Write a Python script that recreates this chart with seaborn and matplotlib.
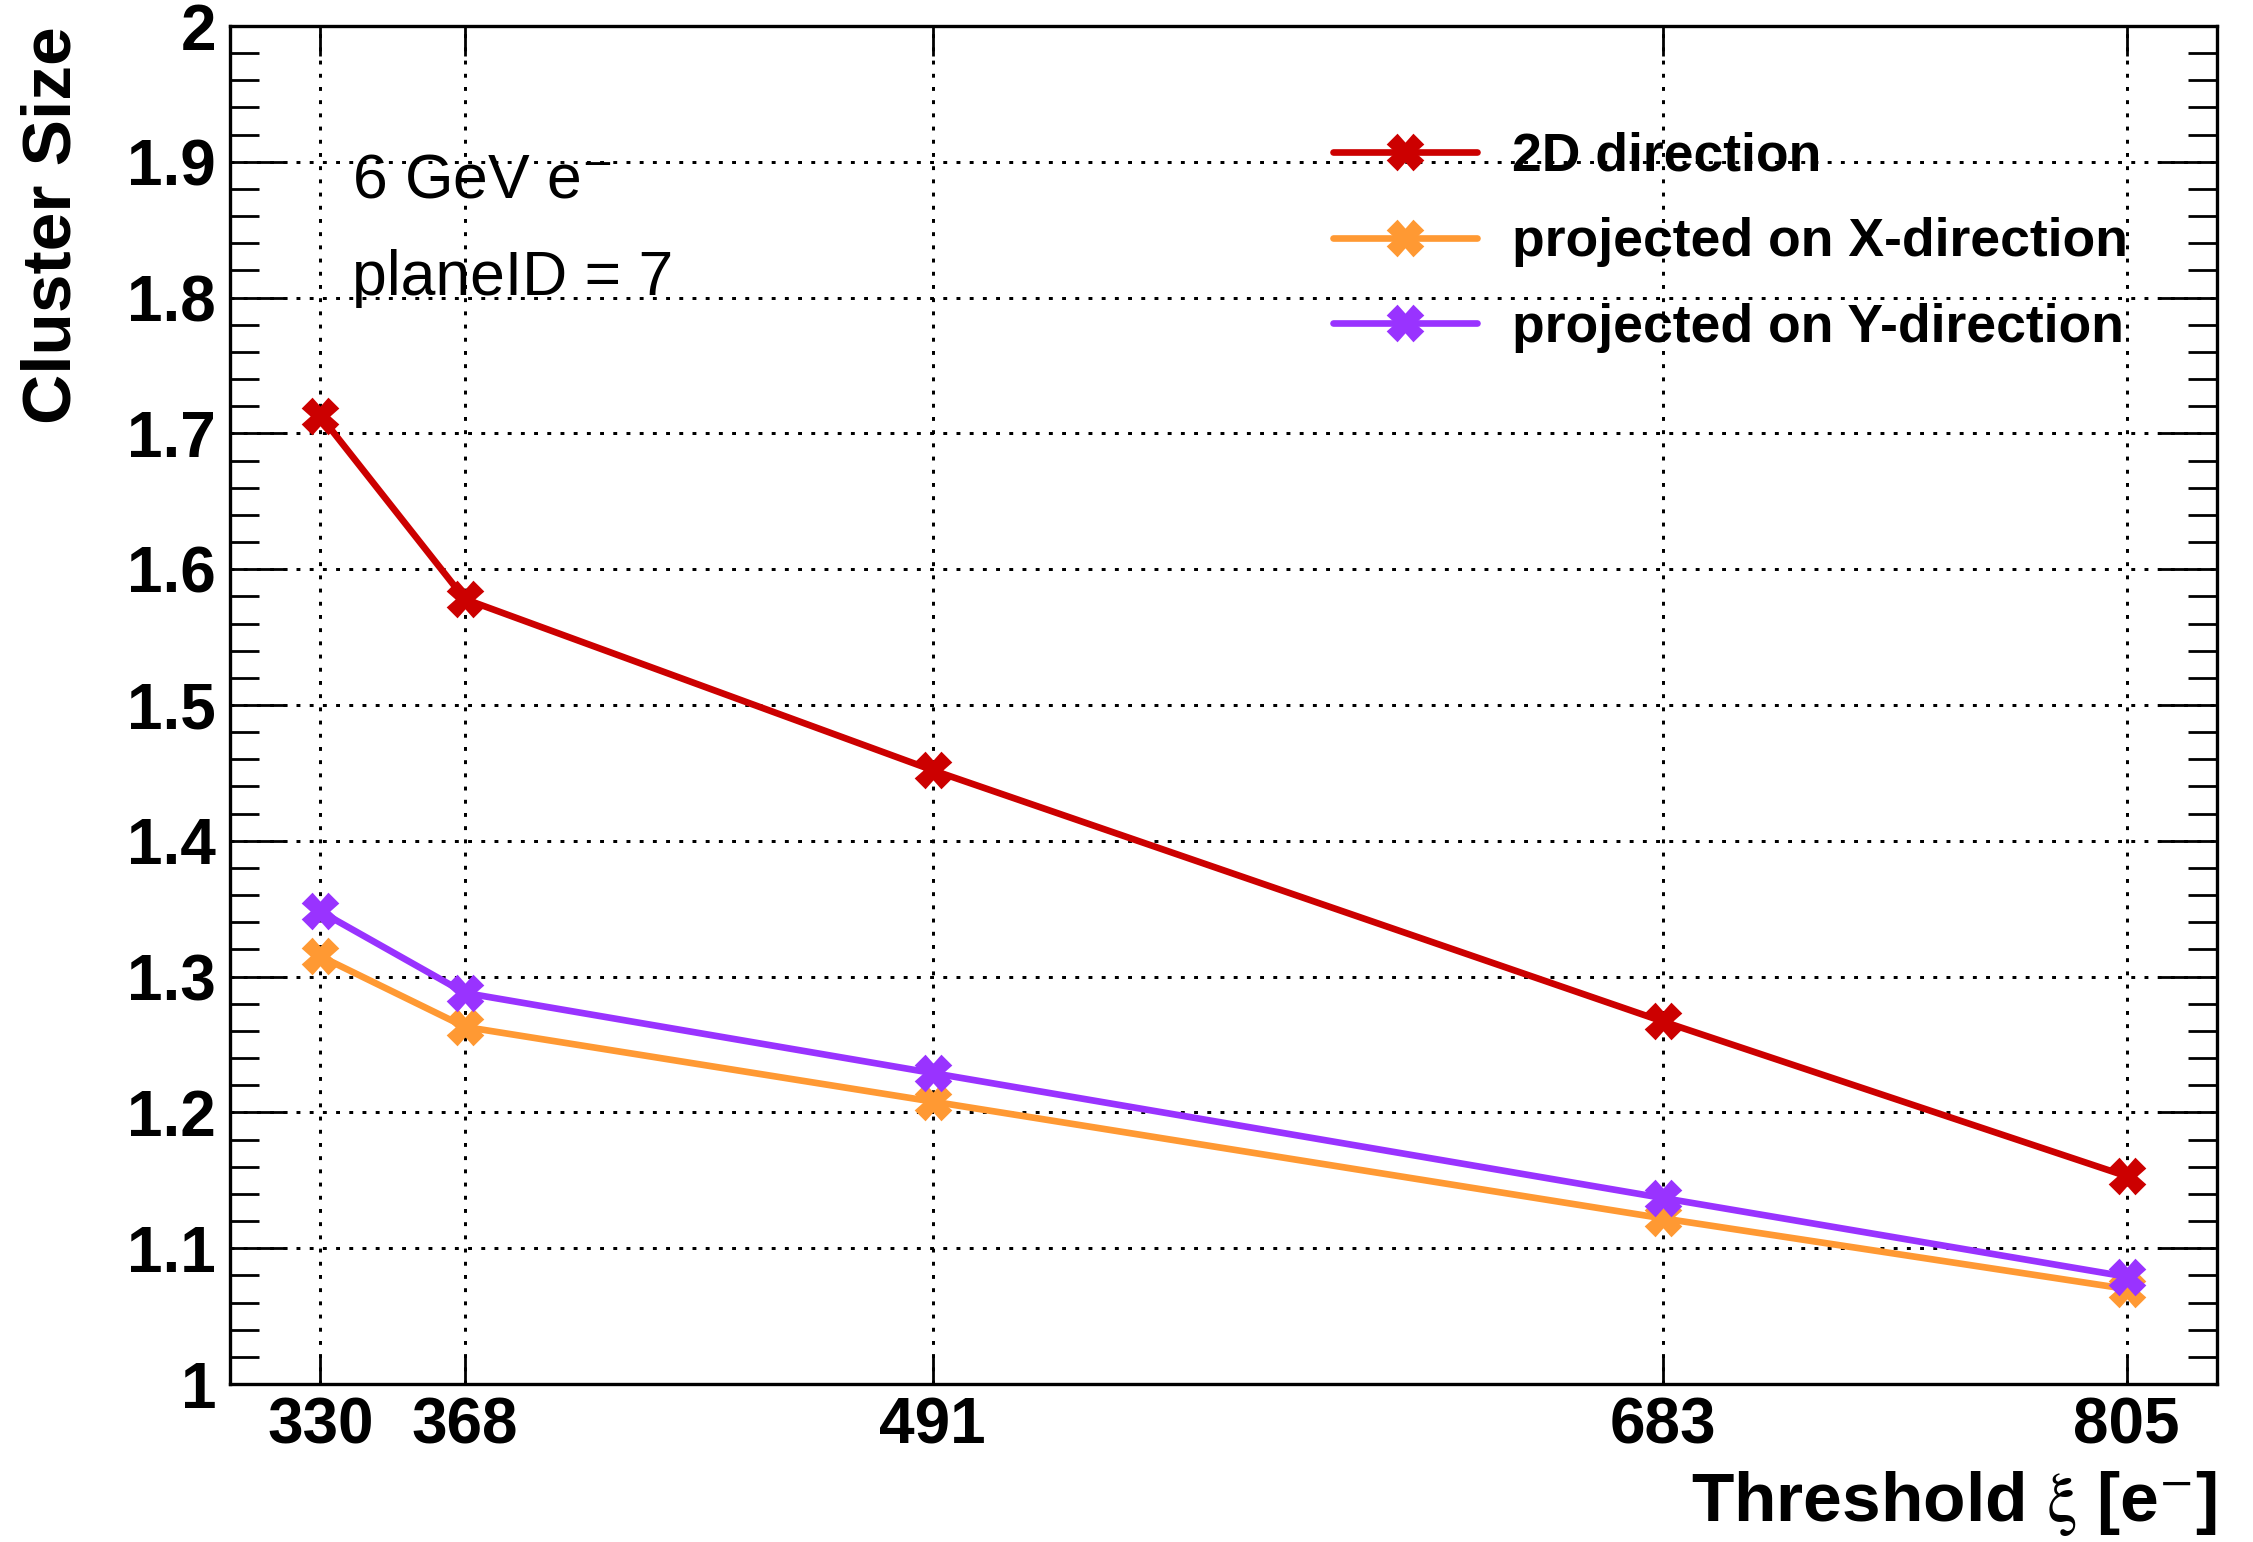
import numpy as np
import pandas as pd
import matplotlib
matplotlib.use("Agg")
import matplotlib.pyplot as plt
import seaborn as sns
from matplotlib.ticker import MultipleLocator, FixedLocator

# Cluster size versus threshold, for a 6 GeV electron beam on plane 7
thresholds = [330, 368, 491, 683, 805]
size_2d = [1.713, 1.578, 1.452, 1.267, 1.153]
size_x = [1.315, 1.263, 1.208, 1.122, 1.070]
size_y = [1.348, 1.288, 1.229, 1.137, 1.079]
series_labels = ["2D direction", "projected on X-direction", "projected on Y-direction"]
series_colors = ["#CC0000", "#FF9933", "#9933FF"]
x_tick_labels = ["330", "368", "491", "683", "805"]
y_tick_values = [1.0, 1.1, 1.2, 1.3, 1.4, 1.5, 1.6, 1.7, 1.8, 1.9, 2.0]
y_tick_labels = ["1", "1.1", "1.2", "1.3", "1.4", "1.5", "1.6", "1.7", "1.8", "1.9", "2"]

sns.set_theme(style="white")
plt.rcParams["font.family"] = ["Liberation Sans", "DejaVu Sans"]
plt.rcParams["mathtext.fontset"] = "stix"
plt.rcParams["text.color"] = "black"
plt.rcParams["axes.labelcolor"] = "black"
plt.rcParams["xtick.color"] = "black"
plt.rcParams["ytick.color"] = "black"

df = pd.DataFrame({
    "threshold": thresholds * 3,
    "size": size_2d + size_x + size_y,
    "series": np.repeat(series_labels, len(thresholds)),
})

fig = plt.figure(figsize=(22.53, 15.42), dpi=100)
ax = fig.add_axes([0.10209, 0.10246, 0.88193, 0.88067])

for label, color in zip(series_labels, series_colors):
    sub = df[df["series"] == label]
    sns.lineplot(data=sub, x="threshold", y="size", ax=ax, color=color,
                 linewidth=4.8, marker="X", markersize=24,
                 markeredgecolor=color, markeredgewidth=1.8,
                 label=label, zorder=3)

span = thresholds[-1] - thresholds[0]
ax.set_xlim(thresholds[0] - 0.05 * span, thresholds[-1] + 0.05 * span)
ax.set_ylim(1.0, 2.0)

ax.xaxis.set_major_locator(FixedLocator(thresholds))
ax.set_xticklabels(x_tick_labels)
ax.yaxis.set_major_locator(FixedLocator(y_tick_values))
ax.set_yticklabels(y_tick_labels)
ax.yaxis.set_minor_locator(MultipleLocator(0.02))

ax.tick_params(axis="both", which="both", direction="in", color="black",
               labelcolor="black", width=2.0,
               top=True, right=True, left=True, bottom=True)
ax.tick_params(axis="x", which="major", length=21.5, pad=9, labelsize=46)
ax.tick_params(axis="y", which="major", length=41, pad=10, labelsize=46)
ax.tick_params(axis="y", which="minor", length=21)
for lab in ax.get_xticklabels() + ax.get_yticklabels():
    lab.set_fontweight("bold")

for sp in ax.spines.values():
    sp.set_color("black")
    sp.set_linewidth(2.4)
    sp.set_visible(True)

ax.set_axisbelow(True)
ax.grid(True, which="major", color="black", linestyle=(0, (1.3, 3.1)),
        linewidth=2.16)

ax.set_xlabel(r"Threshold $\mathrm{\xi}$ [e$^{-}$]", fontsize=50,
              fontweight="bold", loc="right", labelpad=9)
ax.set_ylabel("Cluster Size", fontsize=50, fontweight="bold", loc="top")
ax.yaxis.set_label_coords(-0.073, 1.0)

ax.text(0.0614, 0.874, r"6 GeV e$^{-}$", transform=ax.transAxes,
        fontsize=45, ha="left", va="baseline")
ax.text(0.0614, 0.802, "planeID = 7", transform=ax.transAxes,
        fontsize=45, ha="left", va="baseline")

leg = ax.legend(loc="upper left", bbox_to_anchor=(0.555, 0.922),
                frameon=False, numpoints=1, handlelength=2.7,
                handletextpad=0.65, labelspacing=0.66, borderpad=0,
                borderaxespad=0, prop={"weight": "bold", "size": 38.5})

fig.savefig("out.png", dpi=100, facecolor="white")
